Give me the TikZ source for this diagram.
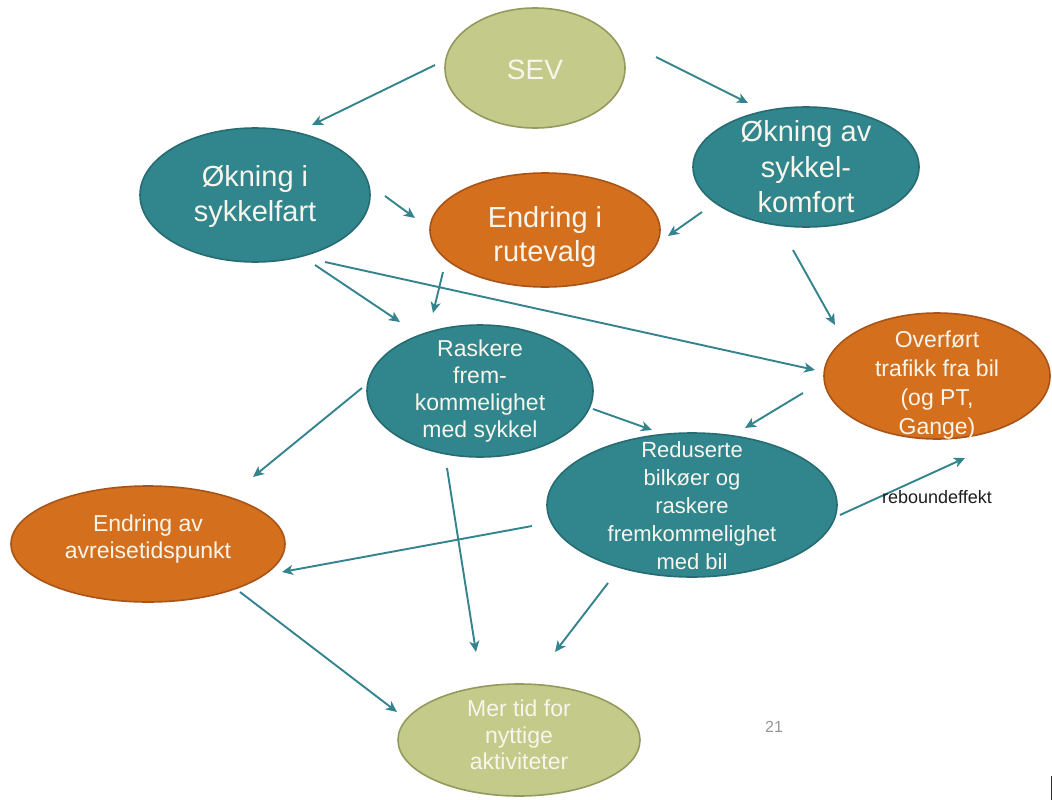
\documentclass[tikz,border=0pt]{standalone}
\usepackage{fontspec}
\setmainfont{Liberation Sans}
\usetikzlibrary{arrows.meta,shapes.geometric}

\definecolor{tealfill}{RGB}{49,133,140}
\definecolor{tealline}{RGB}{38,108,114}
\definecolor{orangefill}{RGB}{212,111,30}
\definecolor{orangeline}{RGB}{168,84,24}
\definecolor{olivefill}{RGB}{196,202,137}
\definecolor{oliveline}{RGB}{148,154,92}
\definecolor{arrowc}{RGB}{52,132,142}
\definecolor{lighttext}{RGB}{248,246,236}

\begin{document}
\begin{tikzpicture}[x=1pt,y=-1pt,
  bubble/.style={ellipse, line width=1.6pt, inner sep=0pt},
  tealbub/.style={bubble, fill=tealfill, draw=tealline},
  orangebub/.style={bubble, fill=orangefill, draw=orangeline},
  olivebub/.style={bubble, fill=olivefill, draw=oliveline},
  txt/.style={text=lighttext, align=center, inner sep=0pt},
  big/.style={font=\fontsize{29}{35}\selectfont},
  small/.style={font=\fontsize{23}{27}\selectfont},
  conn/.style={draw=arrowc, line width=1.9pt,
    -{Stealth[length=11pt,width=10pt,inset=3pt]}}
]
\useasboundingbox[fill=white] (0,0) rectangle (1052,800);

% ellipses
\node[olivebub, minimum width=180pt, minimum height=120pt] (sev) at (535,68) {};
\node[tealbub, minimum width=230pt, minimum height=134pt] (oki) at (255,195) {};
\node[tealbub, minimum width=226pt, minimum height=120pt] (oka) at (806,167) {};
\node[orangebub, minimum width=230pt, minimum height=114pt] (eri) at (545,230) {};
\node[tealbub, minimum width=226pt, minimum height=132pt] (ras) at (480,391) {};
\node[orangebub, minimum width=226pt, minimum height=126pt] (ove) at (937,376) {};
\node[tealbub, minimum width=290pt, minimum height=144pt] (red) at (692,505) {};
\node[orangebub, minimum width=274pt, minimum height=116pt] (era) at (148,544) {};
\node[olivebub, minimum width=242pt, minimum height=112pt] (mer) at (519,740) {};

% texts inside the ellipses
\node[txt, font=\fontsize{28}{34}\selectfont] (sevt) at (535,70) {SEV};
\node[txt, big] (okit) at (255,197) {Økning i\\sykkelfart};
\node[txt, font=\fontsize{29}{35.5}\selectfont] (okat) at (806,167) {Økning av\\sykkel-\\komfort};
\node[txt, font=\fontsize{29}{34}\selectfont] (erit) at (545,237) {Endring i\\rutevalg};
\node[txt, small] (rast) at (480,391) {Raskere\\frem-\\kommelighet\\med sykkel};
\node[txt, font=\fontsize{23}{29}\selectfont] (ovet) at (937,385) {Overført\\trafikk fra bil\\(og PT,\\Gange)};
\node[txt, font=\fontsize{22}{28}\selectfont] (redt) at (692,506) {Reduserte\\bilkøer og\\raskere\\fremkommelighet\\med bil};
\node[txt, font=\fontsize{23}{26.5}\selectfont] (erat) at (148,539) {Endring av\\avreisetidspunkt};
\node[txt, font=\fontsize{23}{26.5}\selectfont] (mert) at (519,735) {Mer tid for\\nyttige\\aktiviteter};

% connectors
\draw[conn] ([shift={(-100,-3)}]sev.center) -- ([shift={(57,-70)}]oki.center);
\draw[conn] ([shift={(121,-11)}]sev.center) -- ([shift={(-58,-64)}]oka.center);
\draw[conn] ([shift={(130,1)}]oki.center) -- ([shift={(-130,-12)}]eri.center);
\draw[conn] ([shift={(-104,45)}]oka.center) -- ([shift={(123,6)}]eri.center);
\draw[conn] ([shift={(60,70)}]oki.center) -- ([shift={(-80,-69)}]ras.center);
\draw[conn] ([shift={(70,67)}]oki.center) -- ([shift={(-122,-6)}]ove.center);
\draw[conn] ([shift={(-102,42)}]eri.center) -- ([shift={(-47,-78)}]ras.center);
\draw[conn] ([shift={(-13,83)}]oka.center) -- ([shift={(-102,-51)}]ove.center);
\draw[conn] ([shift={(113,18)}]ras.center) -- ([shift={(-40,-75)}]red.center);
\draw[conn] ([shift={(-134,17)}]ove.center) -- ([shift={(53,-77)}]red.center);
\draw[conn] ([shift={(-118,-3)}]ras.center) -- ([shift={(105,-67)}]era.center);
\draw[conn] ([shift={(-160,21)}]red.center) -- ([shift={(134,28)}]era.center);
\draw[conn] ([shift={(-33,77)}]ras.center) -- ([shift={(-43,-88)}]mer.center);
\draw[conn] ([shift={(-84,78)}]red.center) -- ([shift={(36,-88)}]mer.center);
\draw[conn] ([shift={(92,48)}]era.center) -- ([shift={(-122,-28)}]mer.center);
\draw[conn] ([shift={(148,10)}]red.center) -- ([shift={(28,82)}]ove.center);

% labels
\node[inner sep=0pt, text={rgb,255:red,30;green,30;blue,30}, font=\fontsize{18}{20}\selectfont] (rebound) at (937,497) {reboundeffekt};
\node[inner sep=0pt, text={rgb,255:red,150;green,150;blue,150}, font=\fontsize{16}{18}\selectfont] (pagenum) at (774,727) {21};

% edge mark at the lower right corner
\draw[line width=1pt, black!80] (1051,776) -- (1051,800);
\end{tikzpicture}
\end{document}
